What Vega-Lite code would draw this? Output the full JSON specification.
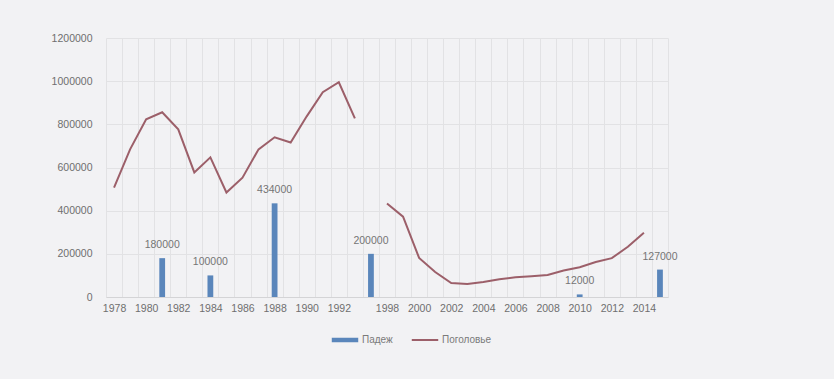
{
  "$schema": "https://vega.github.io/schema/vega-lite/v6.json",
  "autosize": {"type": "none"},
  "width": 562,
  "height": 259,
  "padding": {"left": 106, "top": 38, "right": 166, "bottom": 82},
  "background": "#f2f2f4",
  "config": {
    "view": {"stroke": null},
    "font": "Liberation Sans"
  },
  "data": {
    "values": [
      {"year": 1978, "seg": "a", "padezh": null, "pogolovye": 507000},
      {"year": 1979, "seg": "a", "padezh": null, "pogolovye": 684000},
      {"year": 1980, "seg": "a", "padezh": null, "pogolovye": 823000},
      {"year": 1981, "seg": "a", "padezh": 180000, "pogolovye": 856000},
      {"year": 1982, "seg": "a", "padezh": null, "pogolovye": 777000},
      {"year": 1983, "seg": "a", "padezh": null, "pogolovye": 577000},
      {"year": 1984, "seg": "a", "padezh": 100000, "pogolovye": 647000},
      {"year": 1985, "seg": "a", "padezh": null, "pogolovye": 484000},
      {"year": 1986, "seg": "a", "padezh": null, "pogolovye": 553000},
      {"year": 1987, "seg": "a", "padezh": null, "pogolovye": 684000},
      {"year": 1988, "seg": "a", "padezh": 434000, "pogolovye": 740000},
      {"year": 1989, "seg": "a", "padezh": null, "pogolovye": 716000},
      {"year": 1990, "seg": "a", "padezh": null, "pogolovye": 837000},
      {"year": 1991, "seg": "a", "padezh": null, "pogolovye": 949000},
      {"year": 1992, "seg": "a", "padezh": null, "pogolovye": 995000},
      {"year": 1993, "seg": "a", "padezh": null, "pogolovye": 828000},
      {"year": 1994, "seg": "x", "padezh": null, "pogolovye": null},
      {"year": 1995, "seg": "x", "padezh": 200000, "pogolovye": null},
      {"year": 1996, "seg": "x", "padezh": null, "pogolovye": null},
      {"year": 1997, "seg": "x", "padezh": null, "pogolovye": null},
      {"year": 1998, "seg": "b", "padezh": null, "pogolovye": 433000},
      {"year": 1999, "seg": "b", "padezh": null, "pogolovye": 372000},
      {"year": 2000, "seg": "b", "padezh": null, "pogolovye": 181000},
      {"year": 2001, "seg": "b", "padezh": null, "pogolovye": 116000},
      {"year": 2002, "seg": "b", "padezh": null, "pogolovye": 65000},
      {"year": 2003, "seg": "b", "padezh": null, "pogolovye": 60000},
      {"year": 2004, "seg": "b", "padezh": null, "pogolovye": 70000},
      {"year": 2005, "seg": "b", "padezh": null, "pogolovye": 82000},
      {"year": 2006, "seg": "b", "padezh": null, "pogolovye": 91000},
      {"year": 2007, "seg": "b", "padezh": null, "pogolovye": 96000},
      {"year": 2008, "seg": "b", "padezh": null, "pogolovye": 102000},
      {"year": 2009, "seg": "b", "padezh": null, "pogolovye": 123000},
      {"year": 2010, "seg": "b", "padezh": 12000, "pogolovye": 138000},
      {"year": 2011, "seg": "b", "padezh": null, "pogolovye": 162000},
      {"year": 2012, "seg": "b", "padezh": null, "pogolovye": 180000},
      {"year": 2013, "seg": "b", "padezh": null, "pogolovye": 233000},
      {"year": 2014, "seg": "b", "padezh": null, "pogolovye": 298000},
      {"year": 2015, "seg": "x", "padezh": 127000, "pogolovye": null}
    ]
  },
  "encoding": {
    "x": {
      "field": "year",
      "type": "ordinal",
      "scale": {"paddingInner": 0, "paddingOuter": 0},
      "axis": {
        "title": null,
        "labelAngle": 0,
        "labelExpr": "datum.value % 2 == 0 ? datum.label : ''",
        "labelColor": "#6f6f6f",
        "labelFontSize": 10.5,
        "labelPadding": 6,
        "labelOverlap": false,
        "ticks": false,
        "tickBand": "extent",
        "grid": true,
        "gridColor": "#e2e2e4",
        "domainColor": "#d4d4d6"
      }
    }
  },
  "layer": [
    {
      "transform": [{"filter": "datum.padezh != null"}],
      "mark": {"type": "bar", "width": {"band": 0.36}},
      "encoding": {
        "y": {
          "field": "padezh",
          "type": "quantitative",
          "scale": {"domain": [0, 1200000]},
          "axis": {
            "title": null,
            "values": [0, 200000, 400000, 600000, 800000, 1000000, 1200000],
            "format": "d",
            "labelColor": "#6f6f6f",
            "labelFontSize": 10.5,
            "labelPadding": 14,
            "ticks": false,
            "domain": false,
            "gridColor": "#e2e2e4"
          }
        },
        "color": {
          "datum": "Падеж",
          "type": "nominal",
          "scale": {"domain": ["Падеж", "Поголовье"], "range": ["#5a86bb", "#9c5f69"]},
          "legend": {
            "title": null,
            "orient": "none",
            "direction": "horizontal",
            "legendX": 234,
            "legendY": 297,
            "labelColor": "#7a7a7a",
            "labelFontSize": 10,
            "symbolSize": 700,
            "columnPadding": 14,
            "symbolStrokeWidth": 2,
            "labelOffset": 12,
            "encode": {
              "symbols": {
                "update": {
                  "shape": {"signal": "datum.value == 'Падеж' ? 'M-1,-0.17H1V0.17H-1Z' : 'stroke'"},
                  "strokeWidth": {"signal": "datum.value == 'Падеж' ? 0 : 2"}
                }
              }
            }
          }
        }
      }
    },
    {
      "transform": [{"filter": "datum.padezh != null"}],
      "mark": {"type": "text", "dy": -13, "fontSize": 10.5, "color": "#757575"},
      "encoding": {
        "y": {"field": "padezh", "type": "quantitative"},
        "text": {"field": "padezh", "type": "quantitative", "format": "d"}
      }
    },
    {
      "transform": [{"filter": "datum.pogolovye != null"}],
      "mark": {"type": "line", "strokeWidth": 2},
      "encoding": {
        "y": {"field": "pogolovye", "type": "quantitative"},
        "detail": {"field": "seg"},
        "color": {"datum": "Поголовье", "type": "nominal"}
      }
    }
  ]
}
